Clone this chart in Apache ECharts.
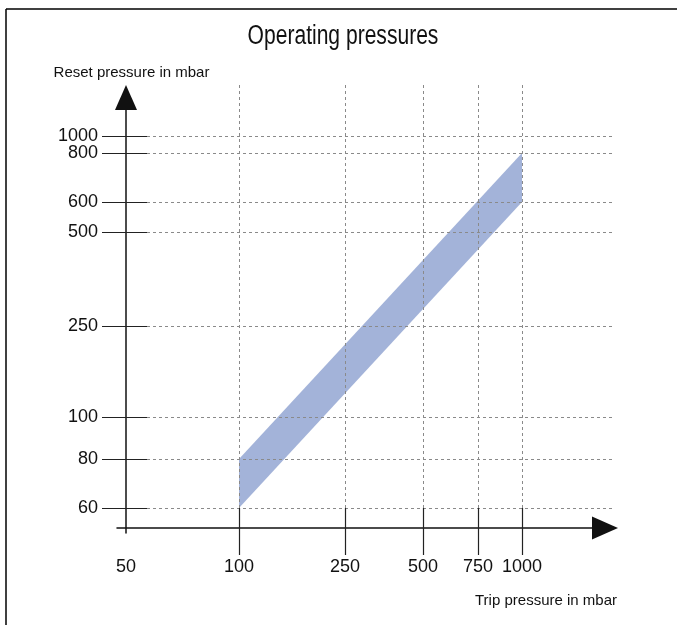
<!DOCTYPE html>
<html>
<head>
<meta charset="utf-8">
<script src="https://cdn.jsdelivr.net/npm/echarts@6/dist/echarts.min.js"></script>
<style>
  html, body { margin: 0; padding: 0; background: #fff; }
  #chart { width: 677px; height: 625px; }
</style>
</head>
<body>
<div id="chart"></div>
<script>
// ---- data ----
const tripPressure = [100, 1000];     // mbar, band ends on the x axis
const resetLow = [60, 600];           // lower edge of band
const resetHigh = [80, 800];          // upper edge of band

// ---- schematic axis scales (tick values and where they sit on the axis) ----
const xTickValues = [50, 100, 250, 500, 750, 1000];
const xTickStops  = [0, 113, 219, 297, 352, 396];
const yTickValues = [60, 80, 100, 250, 500, 600, 800, 1000];
const yTickStops  = [20, 69, 111, 202, 296, 326, 375, 392];

function makeScale(values, stops) {
  return function (v) {
    for (let i = 0; i < values.length - 1; i++) {
      if (v >= values[i] && v <= values[i + 1]) {
        const t = (v - values[i]) / (values[i + 1] - values[i]);
        return stops[i] + t * (stops[i + 1] - stops[i]);
      }
    }
    return v < values[0] ? stops[0] : stops[stops.length - 1];
  };
}
const sx = makeScale(xTickValues, xTickStops);
const sy = makeScale(yTickValues, yTickStops);
function labelFor(values, stops) {
  return function (p) {
    const i = stops.indexOf(p);
    return i >= 0 ? String(values[i]) : '';
  };
}

const bandPoints = [
  [sx(tripPressure[0]), sy(resetLow[0])],
  [sx(tripPressure[1]), sy(resetLow[1])],
  [sx(tripPressure[1]), sy(resetHigh[1])],
  [sx(tripPressure[0]), sy(resetHigh[0])]
];

const FONT = "'Liberation Sans', Arial, sans-serif";
const GRID_X_FROM = 21, GRID_X_TO = 487, GRID_Y_TO = 445;

const gridLines = [];
yTickStops.forEach(p => gridLines.push({ coords: [[GRID_X_FROM, p], [GRID_X_TO, p]] }));
xTickStops.slice(1).forEach(q => gridLines.push({ coords: [[q, yTickStops[0]], [q, GRID_Y_TO]] }));

const tickLines = [];
yTickStops.forEach(p => tickLines.push({ coords: [[-24, p], [GRID_X_FROM, p]] }));
xTickStops.slice(1).forEach(q => tickLines.push({ coords: [[q, yTickStops[0]], [q, -27]] }));

const yLabelStyle = {
  formatter: labelFor(yTickValues, yTickStops),
  hideOverlap: false, interval: 0, showMinLabel: true, showMaxLabel: true,
  margin: 19, fontFamily: FONT, fontSize: 18, color: '#111'
};

const chart = echarts.init(document.getElementById('chart'), null, { renderer: 'canvas' });
chart.setOption({
  animation: false,
  backgroundColor: '#fff',
  graphic: [
    { type: 'line', shape: { x1: 6, y1: 9, x2: 677, y2: 9 }, style: { stroke: '#000', lineWidth: 1.5 }, silent: true },
    { type: 'line', shape: { x1: 6, y1: 9, x2: 6, y2: 625 }, style: { stroke: '#000', lineWidth: 1.5 }, silent: true },
    {
      type: 'text', x: 343, y: 23, scaleX: 0.78, silent: true,
      style: {
        text: 'Operating pressures',
        fontFamily: FONT, fontSize: 27, fill: '#111',
        align: 'center', verticalAlign: 'top'
      }
    }
  ],
  grid: { left: 117, right: 72, top: 97.5, bottom: 92, containLabel: false },
  xAxis: {
    type: 'value', min: -9, max: 479,
    name: 'Trip pressure in mbar',
    nameLocation: 'end', nameGap: 12,
    nameTextStyle: { fontFamily: FONT, fontSize: 15, color: '#111', align: 'right', verticalAlign: 'top', padding: [65, 0, 0, 0] },
    axisLine: { onZero: true, symbol: ['none', 'triangle'], symbolSize: [23, 26], lineStyle: { color: '#111', width: 1.5 } },
    axisTick: { show: false },
    splitLine: { show: false },
    axisLabel: {
      customValues: xTickStops,
      formatter: labelFor(xTickValues, xTickStops),
      hideOverlap: false, interval: 0, showMinLabel: true, showMaxLabel: true,
      margin: 25, fontFamily: FONT, fontSize: 18, color: '#111'
    }
  },
  yAxis: [
    {
      type: 'value', min: -5, max: 430.5, position: 'left',
      name: 'Reset pressure in mbar',
      nameLocation: 'end', nameGap: 17,
      nameTextStyle: { fontFamily: FONT, fontSize: 15, color: '#111', padding: [0, 0, 0, 11] },
      axisLine: { onZero: true, symbol: ['none', 'triangle'], symbolSize: [22, 25], lineStyle: { color: '#111', width: 1.5 } },
      axisTick: { show: false },
      splitLine: { show: false },
      axisLabel: Object.assign({ customValues: yTickStops.slice(0, -1) }, yLabelStyle)
    },
    {
      type: 'value', min: -5, max: 430.5, position: 'left',
      axisLine: { show: false, onZero: true },
      axisTick: { show: false },
      splitLine: { show: false },
      axisLabel: Object.assign({ customValues: yTickStops.slice(-1) }, yLabelStyle)
    }
  ],
  series: [
    {
      type: 'custom',
      name: 'Operating range',
      z: 1,
      silent: true,
      clip: false,
      data: bandPoints,
      renderItem: function (params, api) {
        if (params.dataIndex !== 0) return null;
        const pts = bandPoints.map(p => api.coord(p));
        return { type: 'polygon', shape: { points: pts }, style: { fill: '#a3b3d9' } };
      }
    },
    {
      type: 'lines',
      coordinateSystem: 'cartesian2d',
      z: 3,
      silent: true,
      clip: false,
      lineStyle: { color: '#8a8a8a', width: 1, type: [3, 3], opacity: 1 },
      data: gridLines
    },
    {
      type: 'lines',
      coordinateSystem: 'cartesian2d',
      z: 3,
      silent: true,
      clip: false,
      lineStyle: { color: '#222', width: 1.2, type: 'solid', opacity: 1 },
      data: tickLines
    }
  ]
});
</script>
</body>
</html>
